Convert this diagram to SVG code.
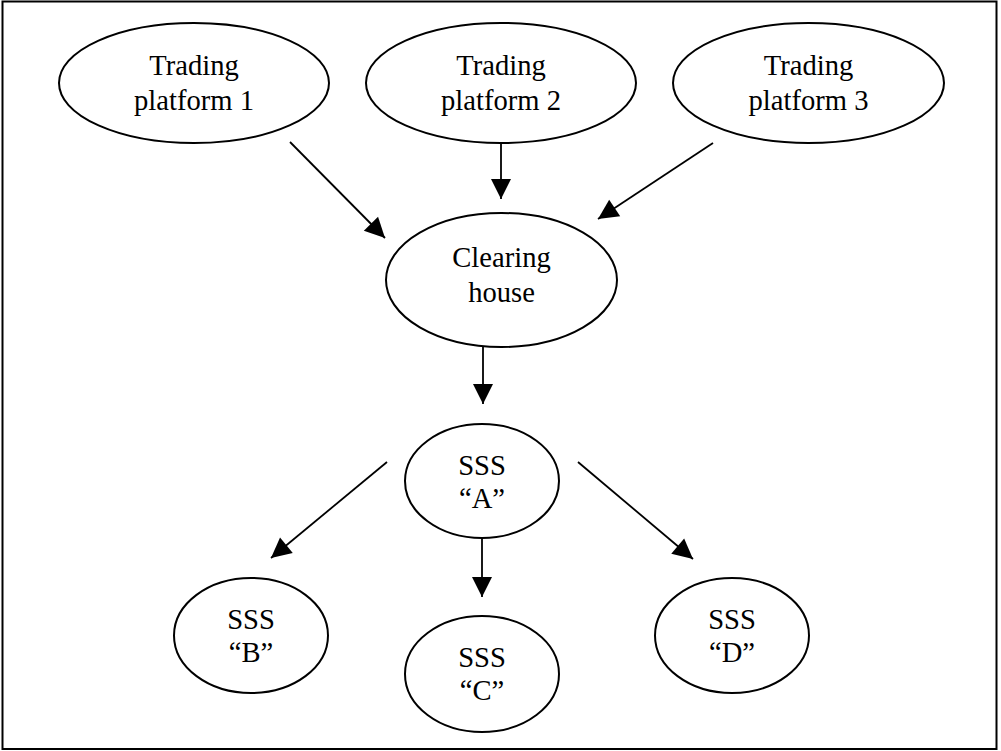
<svg xmlns="http://www.w3.org/2000/svg" width="1001" height="751" viewBox="0 0 1001 751">
<style>
.n{fill:#fff;stroke:#000;stroke-width:2}
.t{font-family:"Liberation Serif","Times New Roman",serif;font-size:28.6px;fill:#000;text-anchor:middle}
.c{stroke:#000;stroke-width:1.8;fill:none;marker-end:url(#ah)}
</style>
<defs>
<marker id="ah" markerUnits="userSpaceOnUse" markerWidth="22" markerHeight="22" viewBox="0 0 22 22" refX="21" refY="11" orient="auto">
<path d="M1,1 L21,11 L1,21 z" fill="#000"/>
</marker>
</defs>
<rect x="2.5" y="1.5" width="994" height="747.5" fill="#fff" stroke="#000" stroke-width="2"/>
<g id="connectors">
<line class="c" x1="290" y1="142" x2="385" y2="238"/>
<line class="c" x1="501" y1="143" x2="501" y2="199"/>
<line class="c" x1="713" y1="143" x2="598" y2="219"/>
<line class="c" x1="483" y1="347" x2="483" y2="404"/>
<line class="c" x1="387" y1="462" x2="271" y2="558"/>
<line class="c" x1="482" y1="538" x2="482" y2="597"/>
<line class="c" x1="578" y1="462" x2="693" y2="559"/>
</g>
<g id="tp1">
<ellipse class="n" cx="194" cy="83" rx="135" ry="60"/>
<text class="t" x="194" y="75">Trading</text>
<text class="t" x="194" y="110">platform 1</text>
</g>
<g id="tp2">
<ellipse class="n" cx="501" cy="83" rx="135" ry="60"/>
<text class="t" x="501" y="75">Trading</text>
<text class="t" x="501" y="110">platform 2</text>
</g>
<g id="tp3">
<ellipse class="n" cx="808.5" cy="83" rx="135.5" ry="60"/>
<text class="t" x="808.5" y="75">Trading</text>
<text class="t" x="808.5" y="110">platform 3</text>
</g>
<g id="clearing">
<ellipse class="n" cx="501.5" cy="280" rx="115.5" ry="67"/>
<text class="t" x="501.5" y="267">Clearing</text>
<text class="t" x="501.5" y="302">house</text>
</g>
<g id="sssA">
<ellipse class="n" cx="482" cy="481" rx="77" ry="57"/>
<text class="t" x="482" y="475">SSS</text>
<text class="t" x="482" y="508">“A”</text>
</g>
<g id="sssB">
<ellipse class="n" cx="251" cy="635.5" rx="77" ry="57.5"/>
<text class="t" x="251" y="629">SSS</text>
<text class="t" x="251" y="662">“B”</text>
</g>
<g id="sssC">
<ellipse class="n" cx="482" cy="674" rx="77" ry="58"/>
<text class="t" x="482" y="667">SSS</text>
<text class="t" x="482" y="700">“C”</text>
</g>
<g id="sssD">
<ellipse class="n" cx="732" cy="635.5" rx="77" ry="57.5"/>
<text class="t" x="732" y="629">SSS</text>
<text class="t" x="732" y="662">“D”</text>
</g>
</svg>
